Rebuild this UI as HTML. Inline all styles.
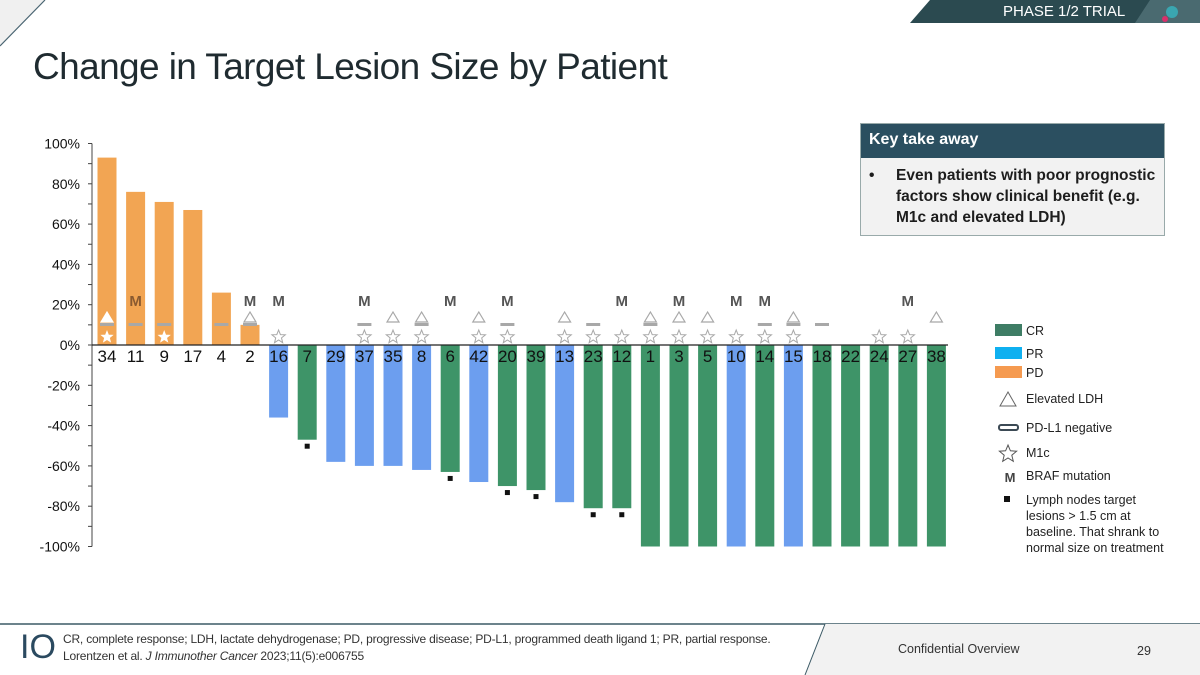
<!DOCTYPE html>
<html><head><meta charset="utf-8">
<style>
body{margin:0;width:1200px;height:675px;overflow:hidden;background:#fff;font-family:"Liberation Sans",sans-serif;position:relative}
.abs{position:absolute}
</style></head>
<body>
<svg class="abs" style="left:0;top:0" width="1200" height="675">
  <polygon points="0,0 45,0 0,46" fill="#f0f0f0"/>
  <line x1="45" y1="0" x2="0" y2="46" stroke="#4a6572" stroke-width="1.2"/>
  <polygon points="930,0 1200,0 1200,23 910,23" fill="#2b4a50"/>
  <polygon points="1150,0 1200,0 1200,23 1135,23" fill="#4a6a70"/>
  <circle cx="1172" cy="12" r="6" fill="#3aa6b0"/>
  <circle cx="1165" cy="19" r="3" fill="#d9306b"/>
  <line x1="0" y1="624" x2="1200" y2="624" stroke="#3c5a66" stroke-width="1.5"/>
  <polygon points="825,624 1200,624 1200,675 805,675" fill="#f2f2f2"/>
  <line x1="825" y1="624" x2="805" y2="675" stroke="#3c5a66" stroke-width="1"/>
</svg>
<div class="abs" style="left:1003px;top:3px;color:#fff;font-size:15px">PHASE 1/2 TRIAL</div>
<div class="abs" style="left:33px;top:46px;font-size:37px;color:#1f2b30;letter-spacing:-0.6px">Change in Target Lesion Size by Patient</div>

<div class="abs" style="left:860px;top:123px;width:303px;height:111px;border:1px solid #9aa;background:#f2f2f2">
  <div style="background:#2b4f60;color:#fff;font-weight:bold;font-size:16px;height:34px;line-height:32px;padding-left:8px">Key take away</div>
  <div style="position:relative;padding:7px 6px 0 35px;font-weight:bold;font-size:15.5px;line-height:21px;color:#1d1d1d"><span style="position:absolute;left:8px">•</span>Even patients with poor prognostic factors show clinical benefit (e.g. M1c and elevated LDH)</div>
</div>

<svg id="chart" class="abs" style="left:0;top:0" width="1200" height="675"></svg>

<div class="abs" style="left:63px;top:631px;font-size:12px;color:#333;line-height:17px;letter-spacing:-0.2px">CR, complete response; LDH, lactate dehydrogenase; PD, progressive disease; PD-L1, programmed death ligand 1; PR, partial response.<br>Lorentzen et al. <i>J Immunother Cancer</i> 2023;11(5):e006755</div>
<div class="abs" style="left:20px;top:628px;font-size:34px;color:#2b4a60;font-weight:300">IO</div>
<div class="abs" style="left:898px;top:642px;font-size:12.5px;color:#333">Confidential Overview</div>
<div class="abs" style="left:1137px;top:644px;font-size:12.5px;color:#333">29</div>

<script>
const patients=["34","11","9","17","4","2","16","7","29","37","35","8","6","42","20","39","13","23","12","1","3","5","10","14","15","18","22","24","27","38"];
const changes=[93,76,71,67,26,10,-36,-47,-58,-60,-60,-62,-63,-68,-70,-72,-78,-81,-81,-100,-100,-100,-100,-100,-100,-100,-100,-100,-100,-100];
const responses=["PD","PD","PD","PD","PD","PD","PR","CR","PR","PR","PR","PR","CR","PR","CR","CR","PR","CR","CR","CR","CR","CR","PR","CR","PR","CR","CR","CR","CR","CR"];
const braf=[0,1,0,0,0,1,1,0,0,1,0,0,1,0,1,0,0,0,1,0,1,0,1,1,0,0,0,0,1,0];
const ldh=[1,0,0,0,0,1,0,0,0,0,1,1,0,1,0,0,1,0,0,1,1,1,0,0,1,0,0,0,0,1];
const pdl1neg=[1,1,1,0,1,1,0,0,0,1,0,1,0,0,1,0,0,1,0,1,0,0,0,1,1,1,0,0,0,0];
const m1c=[1,0,1,0,0,0,1,0,0,1,1,1,0,1,1,0,1,1,1,1,1,1,1,1,1,0,0,1,1,0];
const lymph=[0,0,0,0,0,0,0,1,0,0,0,0,1,0,1,1,0,1,1,0,0,0,0,0,0,0,0,0,0,0];
const yTicks=[100,80,60,40,20,0,-20,-40,-60,-80,-100];

const svg=document.getElementById('chart');
const NS='http://www.w3.org/2000/svg';
const y=v=>345-v*2.015;
const x=i=>107+i*28.6;
const BW=19;
const col={PD:"#f2a553",PR:"#6c9eef",CR:"#3e9468"};
function mk(t,a,txt){const e=document.createElementNS(NS,t);for(const k in a)e.setAttribute(k,a[k]);if(txt!==undefined)e.textContent=txt;svg.appendChild(e);return e;}

let ax=mk('line',{x1:92,y1:y(100),x2:92,y2:y(-100),stroke:'#444','stroke-width':1});


for(let v=-100;v<=100;v+=10){let t=mk('line',{x1:88,y1:y(v),x2:92,y2:y(v),stroke:'#444'});

}
yTicks.forEach(v=>{let t=mk('text',{x:80,y:y(v)+5,'text-anchor':'end','font-size':14,fill:'#111','font-family':'Liberation Sans'},v+'%');

});

const mark='#a8a8a8';
patients.forEach((p,i)=>{
  const cx=x(i),v=changes[i],c=col[responses[i]];
  const top=Math.min(y(v),y(0)),h=Math.abs(y(v)-y(0));
  let b=mk('rect',{x:cx-BW/2,y:top,width:BW,height:Math.max(h,1),fill:c});
  
  
  let tl=mk('text',{x:cx,y:362,'text-anchor':'middle','font-size':17,fill:'#111','font-family':'Liberation Sans'},p);
  
  
  const onBar=v>0;
  const inside=(yy)=>onBar&&yy>top;
  if(braf[i]){let inB=inside(295);let m=mk('text',{x:cx,y:306,'text-anchor':'middle','font-size':15,'font-weight':'bold',fill:inB?'#8a5a30':'#555','font-family':'Liberation Sans'},'M');
    
    }
  if(ldh[i]){let w=inside(312);let t=mk('polygon',{points:`${cx-6},322 ${cx+6},322 ${cx},312`,fill:w?'#fff':'none',stroke:w?'#fff':mark,'stroke-width':1.2});
    
    }
  if(pdl1neg[i]){let d=mk('rect',{x:cx-7,y:323,width:14,height:3,fill:'#a8a8a8'});
    
    }
  if(m1c[i]){let w=inside(330);let rr=w?0.8:1;let pts=[];for(let k=0;k<10;k++){const r=(k%2?3:7)*rr,a=-Math.PI/2+k*Math.PI/5;pts.push((cx+r*Math.cos(a)).toFixed(1)+','+(337+r*Math.sin(a)).toFixed(1));}
    let s=mk('polygon',{points:pts.join(' '),fill:w?'#fff':'none',stroke:w?'#fff':mark,'stroke-width':1});
    
    }
  if(lymph[i]){let q=mk('rect',{x:cx-2.5,y:y(v)+4,width:5,height:5,fill:'#111'});
    
    }
});
let zl=mk('line',{x1:92,y1:y(0),x2:948,y2:y(0),stroke:'#222','stroke-width':1.2});



const L=[["CR",330],["PR",353],["PD",372]];
L.forEach(([k,yy])=>{let r=mk('rect',{x:995,y:yy-6,width:27,height:12,fill:k==='CR'?'#3e7d65':k==='PR'?'#0fb0f0':'#f59a50'});


mk('text',{x:1026,y:yy+5,'font-size':12.5,fill:'#222'},k);});
mk('polygon',{points:'1000,406 1016,406 1008,392',fill:'none',stroke:'#666','stroke-width':1});
mk('text',{x:1026,y:403,'font-size':12.5,fill:'#222'},'Elevated LDH');
mk('rect',{x:999,y:425,width:19,height:5,rx:2,fill:'#fff',stroke:'#3c4a55','stroke-width':2});
mk('text',{x:1026,y:432,'font-size':12.5,fill:'#222'},'PD-L1 negative');
{let pts=[];for(let k=0;k<10;k++){const r=k%2?4:9,a=-Math.PI/2+k*Math.PI/5;pts.push((1008+r*Math.cos(a)).toFixed(1)+','+(454+r*Math.sin(a)).toFixed(1));}mk('polygon',{points:pts.join(' '),fill:'none',stroke:'#555','stroke-width':1});}
mk('text',{x:1026,y:457,'font-size':12.5,fill:'#222'},'M1c');
mk('text',{x:1010,y:482,'font-size':13,'font-weight':'bold','text-anchor':'middle',fill:'#444'},'M');
mk('text',{x:1026,y:480,'font-size':12.5,fill:'#222'},'BRAF mutation');
mk('rect',{x:1004,y:496,width:6,height:6,fill:'#111'});
['Lymph nodes target','lesions > 1.5 cm at','baseline. That shrank to','normal size on treatment'].forEach((t,k)=>mk('text',{x:1026,y:504+k*16,'font-size':12.5,fill:'#222'},t));
</script>
</body></html>
